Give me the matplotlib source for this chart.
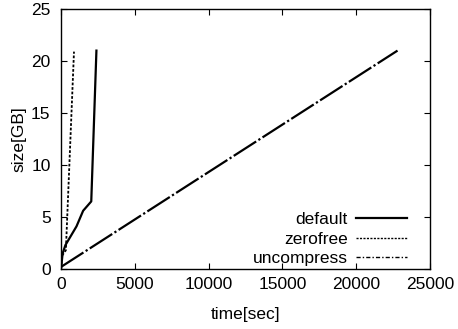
import matplotlib
matplotlib.use("Agg")
import matplotlib.pyplot as plt
from matplotlib.lines import Line2D

plt.rcParams['font.family'] = ['Liberation Sans', 'DejaVu Sans']

default_t = [0, 110, 300, 1050, 1500, 2050, 2400]
default_s = [0, 1.5, 2.3, 4.1, 5.6, 6.5, 21.0]
zerofree_t = [0, 80, 330, 880]
zerofree_s = [0, 1.3, 1.8, 20.9]
uncompress_t = [0, 22800]
uncompress_s = [0.2, 21.0]

xticks = [0, 5000, 10000, 15000, 20000, 25000]
yticks = [0, 5, 10, 15, 20, 25]

fig = plt.figure(figsize=(4.58, 3.29), dpi=100)
ax = fig.add_axes([61/458, 1-269/329, (430-61)/458, (269-9)/329])

ax.plot(default_t, default_s, color='black', lw=1.6, ls='-')
ax.plot(zerofree_t, zerofree_s, color='black', lw=1.3, ls=(0, (1.5, 1.0)))
ax.plot(uncompress_t, uncompress_s, color='black', lw=1.6, ls=(0, (12, 1.2, 1, 1.2)))

handles = [
    Line2D([], [], color='black', lw=1.6, ls='-'),
    Line2D([], [], color='black', lw=1.0, ls=(0, (1.5, 1.0))),
    Line2D([], [], color='black', lw=1.0, ls=(0, (3, 1.5, 1, 1.5))),
]
labels = ['default', 'zerofree', 'uncompress']

ax.set_xlim(0, 25000)
ax.set_ylim(0, 25)
ax.set_xticks(xticks)
ax.set_yticks(yticks)
ax.tick_params(direction='in', top=True, right=True, length=4, width=0.8, labelsize=12.5)
ax.tick_params(axis='y', pad=7.5)
ax.tick_params(axis='x', pad=6)
for s in ax.spines.values():
    s.set_linewidth(1.0)
ax.set_xlabel('time[sec]', fontsize=12.5, labelpad=10.5)
ax.set_ylabel('size[GB]', fontsize=12.5, labelpad=3.5)

leg = ax.legend(handles, labels, loc='lower right', frameon=False, markerfirst=False, fontsize=12.5,
                handlelength=2.9, labelspacing=0.27, borderaxespad=0.3, handletextpad=0.5,
                bbox_to_anchor=(0.97, -0.037))
for t in leg.get_texts():
    t.set_ha('right')

fig.savefig('out.png', dpi=100)
